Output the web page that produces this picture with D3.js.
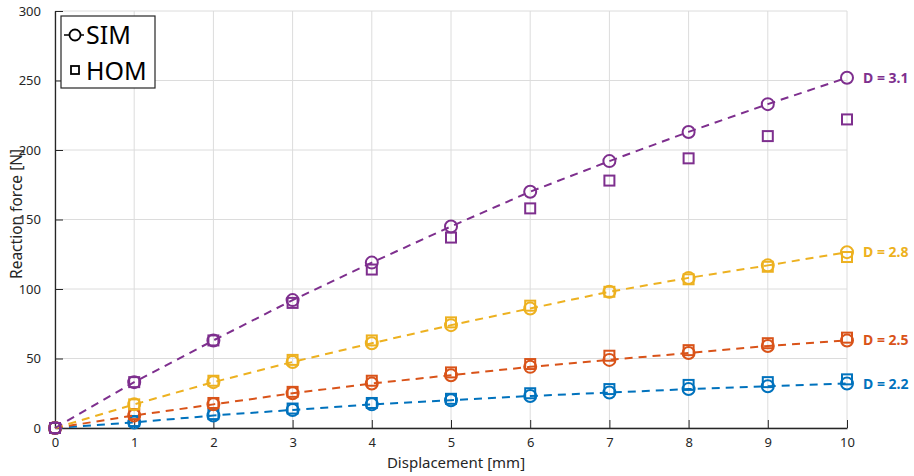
<!DOCTYPE html>
<html><head><meta charset="utf-8">
<script src="https://cdn.jsdelivr.net/npm/d3@7"></script>
<style>body{margin:0;background:#fff}svg{display:block;font-family:"Noto Sans",sans-serif}</style>
</head><body><svg id="c" width="914" height="476"></svg>
<script>
const xs = [0,1,2,3,4,5,6,7,8,9,10];
const seriesLabels = ["D = 2.2","D = 2.5","D = 2.8","D = 3.1"];
const colors = ["#0072BD","#D95319","#EDB120","#7E2F8E"];
const sim22 = [0,4,9,13,17,20,23,25.5,28,30,32];
const hom22 = [0,5,10,14,18,21,25,28,31,33,35];
const sim25 = [0,9,17,25,32,38,44,49,54,59,63];
const hom25 = [0,10,18,26,34,40,46,52,56,61,65];
const sim28 = [0,17,33,47.5,61,74,86,98,108,117,126.5];
const hom28 = [0,17,34,49,63,76,88,98,107,116,123];
const sim31 = [0,33,63,92,119,145,170,192,213,233,252];
const hom31 = [0,33,63,90,114,137,158,178,194,210,222];
const xTicks = [0,1,2,3,4,5,6,7,8,9,10];
const yTicks = [0,50,100,150,200,250,300];
const sims = [sim22,sim25,sim28,sim31];
const homs = [hom22,hom25,hom28,hom31];

const svg = d3.select("#c");
const x = d3.scaleLinear().domain([0,10]).range([55,847]);
const y = d3.scaleLinear().domain([0,300]).range([428,11]);
const axisColor = "#262626";

// grid
const g = svg.append("g");
g.selectAll(".vg").data(xTicks).join("line")
  .attr("x1",d=>x(d)).attr("x2",d=>x(d)).attr("y1",y(0)).attr("y2",y(300))
  .attr("stroke","#dcdcdc").attr("stroke-width",1);
g.selectAll(".hg").data(yTicks).join("line")
  .attr("y1",d=>y(d)).attr("y2",d=>y(d)).attr("x1",x(0)).attr("x2",x(10))
  .attr("stroke","#dcdcdc").attr("stroke-width",1);

// axes
const xAxis = d3.axisBottom(x).tickValues(xTicks).tickSizeInner(-8).tickSizeOuter(0).tickPadding(13);
const yAxis = d3.axisLeft(y).tickValues(yTicks).tickSizeInner(-8).tickSizeOuter(0).tickPadding(14);
const gx = svg.append("g").attr("transform",`translate(0,${y(0)})`).call(xAxis);
const gy = svg.append("g").attr("transform",`translate(${x(0)},0)`).call(yAxis);
[gx,gy].forEach(a=>{
  a.select(".domain").attr("stroke",axisColor).attr("stroke-width",1.3);
  a.selectAll(".tick line").attr("stroke",axisColor).attr("stroke-width",1);
  a.selectAll(".tick text").attr("fill",axisColor).attr("font-size",13).attr("font-family","Noto Sans");
});
gx.selectAll(".tick text").attr("dy","0.45em");

svg.append("text").attr("x",456).attr("y",468).attr("text-anchor","middle")
  .attr("font-size",15).attr("fill",axisColor).text("Displacement [mm]");
svg.append("text").attr("transform",`translate(22,${y(154)}) rotate(-90)`).attr("text-anchor","middle")
  .attr("font-size",15.5).attr("fill",axisColor).text("Reaction force [N]");

// series
const line = d3.line().x((d,i)=>x(xs[i])).y(d=>y(d));
sims.forEach((s,k)=>{
  const c = colors[k];
  const sg = svg.append("g");
  sg.append("path").attr("d",line(s)).attr("fill","none").attr("stroke",c)
    .attr("stroke-width",2).attr("stroke-dasharray","8,6");
  sg.selectAll("rect").data(homs[k]).join("rect")
    .attr("x",(d,i)=>x(xs[i])-5).attr("y",d=>y(d)-5).attr("width",10).attr("height",10)
    .attr("fill","none").attr("stroke",c).attr("stroke-width",2);
  sg.selectAll("circle").data(s).join("circle")
    .attr("cx",(d,i)=>x(xs[i])).attr("cy",d=>y(d)).attr("r",6)
    .attr("fill","none").attr("stroke",c).attr("stroke-width",2);
  sg.append("text").attr("x",x(10)+16).attr("y",y(s[s.length-1])+5)
    .attr("font-size",14).attr("font-weight","bold").attr("fill",c).text(seriesLabels[k]);
});

// legend
const lg = svg.append("g");
lg.append("rect").attr("x",61).attr("y",16).attr("width",94).attr("height",72)
  .attr("fill","#fff").attr("stroke","#262626").attr("stroke-width",1.2);
lg.append("line").attr("x1",64).attr("x2",84).attr("y1",35).attr("y2",35).attr("stroke","#000").attr("stroke-width",1.5);
lg.append("circle").attr("cx",75).attr("cy",35).attr("r",5.5).attr("fill","#fff").attr("stroke","#000").attr("stroke-width",1.8);
lg.append("rect").attr("x",71).attr("y",66).attr("width",8).attr("height",8).attr("fill","none").attr("stroke","#000").attr("stroke-width",1.8);
lg.append("text").attr("x",86).attr("y",44).attr("font-size",25).attr("fill","#000").text("SIM");
lg.append("text").attr("x",86).attr("y",80).attr("font-size",25).attr("fill","#000").text("HOM");
</script></body></html>
